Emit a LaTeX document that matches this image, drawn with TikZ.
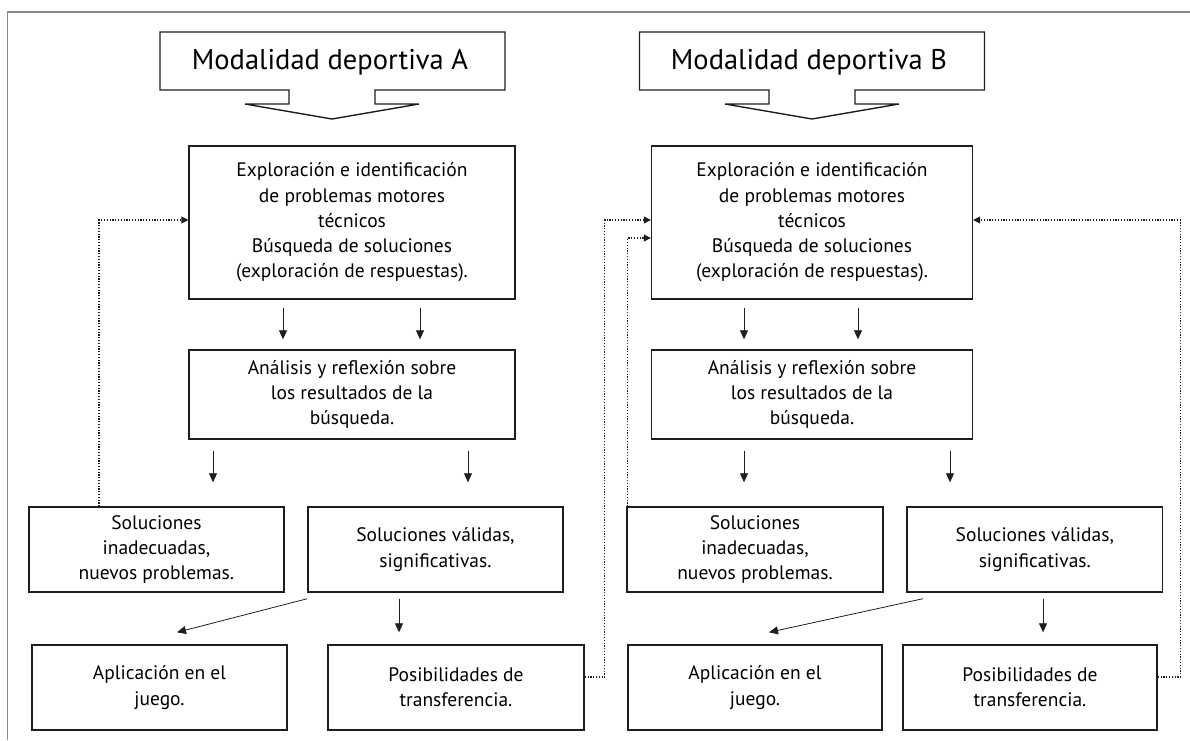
\documentclass[tikz,border=0pt]{standalone}
\usepackage{fontspec}
\setmainfont{PT Sans}
\usetikzlibrary{arrows.meta,calc}
\definecolor{ink}{HTML}{1E1E1E}
\definecolor{framegray}{HTML}{8A8A8A}
\begin{document}
\begin{tikzpicture}[x=1pt,y=-1pt,
  box/.style={draw=ink,line width=1.4pt,inner sep=0pt,align=center,font=\fontsize{19.5}{25.3}\selectfont,text=black},
  bigtext/.style={font=\fontsize{28.5}{30}\selectfont,text=black,inner sep=0pt},
  shapeline/.style={draw=ink,line width=1.4pt},
  arr/.style={draw=ink,line width=0.8pt,-{Triangle[length=9pt,width=8pt]}},
  dotarr/.style={draw=ink,line width=1.2pt,dash pattern=on 1.2pt off 1.6pt,-{Triangle[length=7pt,width=7pt]}}]
\useasboundingbox (0,0) rectangle (1190,740);
\draw[framegray,line width=1.5pt] (7.7,740) -- (7.7,12) -- (1190,12);

% top arrow shapes
\draw[shapeline] (160,32) -- (505,32) -- (505,90) -- (375,90) -- (375,104) -- (419,104) -- (332,119) -- (245,104) -- (289,104) -- (289,90) -- (160,90) -- cycle;
\node[bigtext] (modA) at (330,62) {Modalidad deportiva A};
\draw[shapeline] (639.5,32) -- (984.5,32) -- (984.5,90) -- (855,90) -- (855,104) -- (899,104) -- (812,119) -- (725,104) -- (769,104) -- (769,90) -- (639.5,90) -- cycle;
\node[bigtext] (modB) at (809,62) {Modalidad deportiva B};

% boxes A
\node[box,minimum width=326pt,minimum height=153pt] (ExA) at (352,222.5) {Exploración e identificación\\ de problemas motores\\ técnicos\\ Búsqueda de soluciones\\ (exploración de respuestas).};
\node[box,minimum width=326pt,minimum height=89pt] (AnA) at (352,394.5) {Análisis y reflexión sobre\\ los resultados de la\\ búsqueda.};
\node[box,minimum width=255pt,minimum height=85pt] (SiA) at (156.4,549.5) {Soluciones\\ inadecuadas,\\ nuevos problemas.};
\node[box,minimum width=255pt,minimum height=85pt] (SvA) at (435.5,549.5) {Soluciones válidas,\\ significativas.};
\node[box,minimum width=255pt,minimum height=85pt] (ApA) at (159.5,687.5) {Aplicación en el\\ juego.};
\node[box,minimum width=256pt,minimum height=85pt] (PoA) at (456,687.5) {Posibilidades de\\ transferencia.};

% boxes B
\node[box,minimum width=321pt,minimum height=153pt] (ExB) at (812,222.5) {Exploración e identificación\\ de problemas motores\\ técnicos\\ Búsqueda de soluciones\\ (exploración de respuestas).};
\node[box,minimum width=321pt,minimum height=89pt] (AnB) at (812,394.5) {Análisis y reflexión sobre\\ los resultados de la\\ búsqueda.};
\node[box,minimum width=256pt,minimum height=85pt] (SiB) at (755,549.5) {Soluciones\\ inadecuadas,\\ nuevos problemas.};
\node[box,minimum width=255.6pt,minimum height=85pt] (SvB) at (1034.8,549.5) {Soluciones válidas,\\ significativas.};
\node[box,minimum width=254pt,minimum height=85pt] (ApB) at (755,687.5) {Aplicación en el\\ juego.};
\node[box,minimum width=254pt,minimum height=85pt] (PoB) at (1030,687.5) {Posibilidades de\\ transferencia.};

% solid arrows A
\draw[arr] ($(ExA.south)+(-69,8)$) -- ($(AnA.north)+(-69,-10)$);
\draw[arr] ($(ExA.south)+(68,8)$) -- ($(AnA.north)+(68,-10)$);
\draw[arr] ($(AnA.south)+(-139,11)$) -- ($(SiA.north)+(56.6,-24)$);
\draw[arr] ($(AnA.south)+(116,11)$) -- ($(SvA.north)+(32.5,-24)$);
\draw[arr] ($(SvA.south west)+(0,6)$) -- ($(ApA.north)+(17.5,-12)$);
\draw[arr] ($(SvA.south)+(-36.5,6)$) -- ($(PoA.north)+(-57,-12)$);

% solid arrows B
\draw[arr] ($(ExB.south)+(-68,8)$) -- ($(AnB.north)+(-68,-10)$);
\draw[arr] ($(ExB.south)+(46,8)$) -- ($(AnB.north)+(46,-10)$);
\draw[arr] ($(AnB.south)+(-68,11)$) -- ($(SiB.north)+(-11,-24)$);
\draw[arr] ($(AnB.south)+(138,11)$) -- ($(SvB.north)+(-84.8,-24)$);
\draw[arr] ($(SvB.south west)+(16.6,6)$) -- ($(ApB.north)+(14,-12)$);
\draw[arr] ($(SvB.south)+(8.2,6)$) -- ($(PoB.north)+(13,-12)$);

% dotted feedback connectors
\draw[dotarr] ($(SiA.north west)+(70.8,0)$) |- ([yshift=2.5pt]ExA.west);
\draw[dotarr] ([yshift=10.5pt]PoA.east) -- ++(20,0) |- ([yshift=2.5pt]ExB.west);
\draw[dotarr] ($(SiB.north west)+(1.5,0)$) |- ([yshift=-15.5pt]ExB.west);
\draw[dotarr] ([yshift=10.5pt]PoB.east) -- ++(22.5,0) |- ([yshift=2.5pt]ExB.east);
\end{tikzpicture}
\end{document}
